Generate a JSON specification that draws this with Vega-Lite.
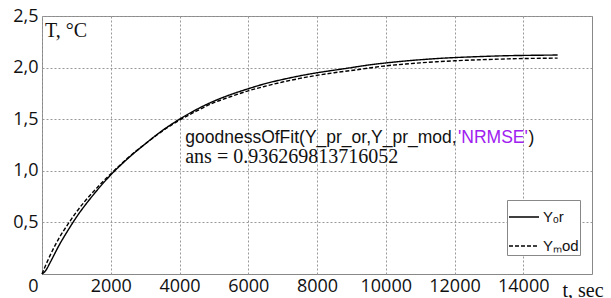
{
  "$schema": "https://vega.github.io/schema/vega-lite/v6.json",
  "width": 550,
  "height": 258,
  "padding": {"left": 42, "top": 16, "right": 19, "bottom": 24},
  "autosize": {"type": "none"},
  "background": "white",
  "config": {
    "view": {"stroke": "#888", "strokeWidth": 1},
    "axis": {"labelFont": "Open Sans", "labelFontSize": 18, "labelColor": "#111", "ticks": false, "domain": false, "gridColor": "#999", "gridDash": [2, 2], "gridWidth": 1}
  },
  "datasets": {
    "curves": [
      {"t": 0, "T": 0, "s": "Yₒr"}, {"t": 100, "T": 0.03, "s": "Yₒr"}, {"t": 250, "T": 0.12, "s": "Yₒr"}, {"t": 500, "T": 0.28, "s": "Yₒr"}, {"t": 750, "T": 0.42, "s": "Yₒr"}, {"t": 1000, "T": 0.55, "s": "Yₒr"}, {"t": 1500, "T": 0.77, "s": "Yₒr"}, {"t": 2000, "T": 0.96, "s": "Yₒr"}, {"t": 2500, "T": 1.12, "s": "Yₒr"}, {"t": 3000, "T": 1.26, "s": "Yₒr"}, {"t": 3500, "T": 1.39, "s": "Yₒr"}, {"t": 4000, "T": 1.5, "s": "Yₒr"}, {"t": 4500, "T": 1.595, "s": "Yₒr"}, {"t": 5000, "T": 1.675, "s": "Yₒr"}, {"t": 5500, "T": 1.74, "s": "Yₒr"}, {"t": 6000, "T": 1.795, "s": "Yₒr"}, {"t": 6500, "T": 1.845, "s": "Yₒr"}, {"t": 7000, "T": 1.885, "s": "Yₒr"}, {"t": 7500, "T": 1.92, "s": "Yₒr"}, {"t": 8000, "T": 1.95, "s": "Yₒr"}, {"t": 8500, "T": 1.975, "s": "Yₒr"}, {"t": 9000, "T": 2.0, "s": "Yₒr"}, {"t": 9500, "T": 2.025, "s": "Yₒr"}, {"t": 10000, "T": 2.045, "s": "Yₒr"}, {"t": 10500, "T": 2.062, "s": "Yₒr"}, {"t": 11000, "T": 2.076, "s": "Yₒr"}, {"t": 11500, "T": 2.088, "s": "Yₒr"}, {"t": 12000, "T": 2.097, "s": "Yₒr"}, {"t": 12500, "T": 2.104, "s": "Yₒr"}, {"t": 13000, "T": 2.11, "s": "Yₒr"}, {"t": 13500, "T": 2.115, "s": "Yₒr"}, {"t": 14000, "T": 2.118, "s": "Yₒr"}, {"t": 14500, "T": 2.12, "s": "Yₒr"}, {"t": 15000, "T": 2.122, "s": "Yₒr"},
      {"t": 0, "T": 0, "s": "Yₘod"}, {"t": 100, "T": 0.08, "s": "Yₘod"}, {"t": 250, "T": 0.19, "s": "Yₘod"}, {"t": 500, "T": 0.35, "s": "Yₘod"}, {"t": 750, "T": 0.48, "s": "Yₘod"}, {"t": 1000, "T": 0.6, "s": "Yₘod"}, {"t": 1500, "T": 0.8, "s": "Yₘod"}, {"t": 2000, "T": 0.97, "s": "Yₘod"}, {"t": 2500, "T": 1.125, "s": "Yₘod"}, {"t": 3000, "T": 1.26, "s": "Yₘod"}, {"t": 3500, "T": 1.385, "s": "Yₘod"}, {"t": 4000, "T": 1.49, "s": "Yₘod"}, {"t": 4500, "T": 1.58, "s": "Yₘod"}, {"t": 5000, "T": 1.66, "s": "Yₘod"}, {"t": 5500, "T": 1.72, "s": "Yₘod"}, {"t": 6000, "T": 1.775, "s": "Yₘod"}, {"t": 6500, "T": 1.82, "s": "Yₘod"}, {"t": 7000, "T": 1.86, "s": "Yₘod"}, {"t": 7500, "T": 1.895, "s": "Yₘod"}, {"t": 8000, "T": 1.925, "s": "Yₘod"}, {"t": 8500, "T": 1.95, "s": "Yₘod"}, {"t": 9000, "T": 1.972, "s": "Yₘod"}, {"t": 9500, "T": 1.995, "s": "Yₘod"}, {"t": 10000, "T": 2.017, "s": "Yₘod"}, {"t": 10500, "T": 2.032, "s": "Yₘod"}, {"t": 11000, "T": 2.046, "s": "Yₘod"}, {"t": 11500, "T": 2.057, "s": "Yₘod"}, {"t": 12000, "T": 2.066, "s": "Yₘod"}, {"t": 12500, "T": 2.073, "s": "Yₘod"}, {"t": 13000, "T": 2.079, "s": "Yₘod"}, {"t": 13500, "T": 2.084, "s": "Yₘod"}, {"t": 14000, "T": 2.088, "s": "Yₘod"}, {"t": 14500, "T": 2.09, "s": "Yₘod"}, {"t": 15000, "T": 2.092, "s": "Yₘod"}
    ],
    "notes": [
      {"t": 87, "T": 2.3, "label": "T, °C", "kind": "serif"},
      {"t": 4167, "T": 1.075, "label": "ans = 0.936269813716052", "kind": "serif"},
      {"t": 4167, "T": 1.269, "label": "goodnessOfFit(Y_pr_or,Y_pr_mod,", "kind": "sans"},
      {"t": 12100, "T": 1.269, "label": "'NRMSE'", "kind": "purple"},
      {"t": 14150, "T": 1.269, "label": ")", "kind": "sans"}
    ]
  },
  "layer": [
    {
      "data": {"name": "curves"},
      "mark": {"type": "line", "color": "black", "interpolate": "monotone", "strokeWidth": 1.4},
      "encoding": {
        "x": {"field": "t", "type": "quantitative", "scale": {"domain": [0, 16000], "nice": false},
          "axis": {"values": [0, 2000, 4000, 6000, 8000, 10000, 12000, 14000], "format": "d", "labelPadding": 3, "labelOffset": {"condition": {"test": "datum.value == 0", "value": -9}, "value": 0}, "labelFlush": false,
            "title": "t, sec", "titleFont": "Liberation Serif", "titleFontSize": 20, "titleFontWeight": "normal", "titleColor": "#111", "titleX": 520, "titleY": 22, "titleAlign": "left", "titleBaseline": "alphabetic", "titleAnchor": null}},
        "y": {"field": "T", "type": "quantitative", "scale": {"domain": [0, 2.5], "nice": false},
          "axis": {"values": [0.5, 1, 1.5, 2, 2.5], "labelExpr": "replace(format(datum.value, '.1f'), '.', ',')", "labelPadding": 4, "title": null}},
        "strokeDash": {"field": "s", "type": "nominal", "scale": {"domain": ["Yₒr", "Yₘod"], "range": [[1, 0], [4, 2]]},
          "legend": {"title": null, "orient": "none", "legendX": 465, "legendY": 184, "fillColor": "white", "strokeColor": "#888", "padding": 1, "symbolType": "M-1,0H1", "symbolSize": 900, "symbolStrokeColor": "black", "symbolStrokeWidth": 1.4, "labelFont": "Liberation Sans", "labelFontSize": 15, "labelColor": "#111", "rowPadding": 5, "labelOffset": 3}}
      }
    },
    {
      "data": {"name": "notes"},
      "transform": [{"filter": "datum.kind == 'serif'"}],
      "mark": {"type": "text", "font": "Liberation Serif", "fontSize": 20, "align": "left", "baseline": "alphabetic", "color": "#111"},
      "encoding": {"x": {"field": "t", "type": "quantitative"}, "y": {"field": "T", "type": "quantitative"}, "text": {"field": "label"}}
    },
    {
      "data": {"name": "notes"},
      "transform": [{"filter": "datum.kind == 'sans'"}],
      "mark": {"type": "text", "font": "Liberation Sans", "fontSize": 17.5, "align": "left", "baseline": "alphabetic", "color": "#111"},
      "encoding": {"x": {"field": "t", "type": "quantitative"}, "y": {"field": "T", "type": "quantitative"}, "text": {"field": "label"}}
    },
    {
      "data": {"name": "notes"},
      "transform": [{"filter": "datum.kind == 'purple'"}],
      "mark": {"type": "text", "font": "Liberation Sans", "fontSize": 17.5, "align": "left", "baseline": "alphabetic", "color": "#a020f0"},
      "encoding": {"x": {"field": "t", "type": "quantitative"}, "y": {"field": "T", "type": "quantitative"}, "text": {"field": "label"}}
    }
  ]
}
